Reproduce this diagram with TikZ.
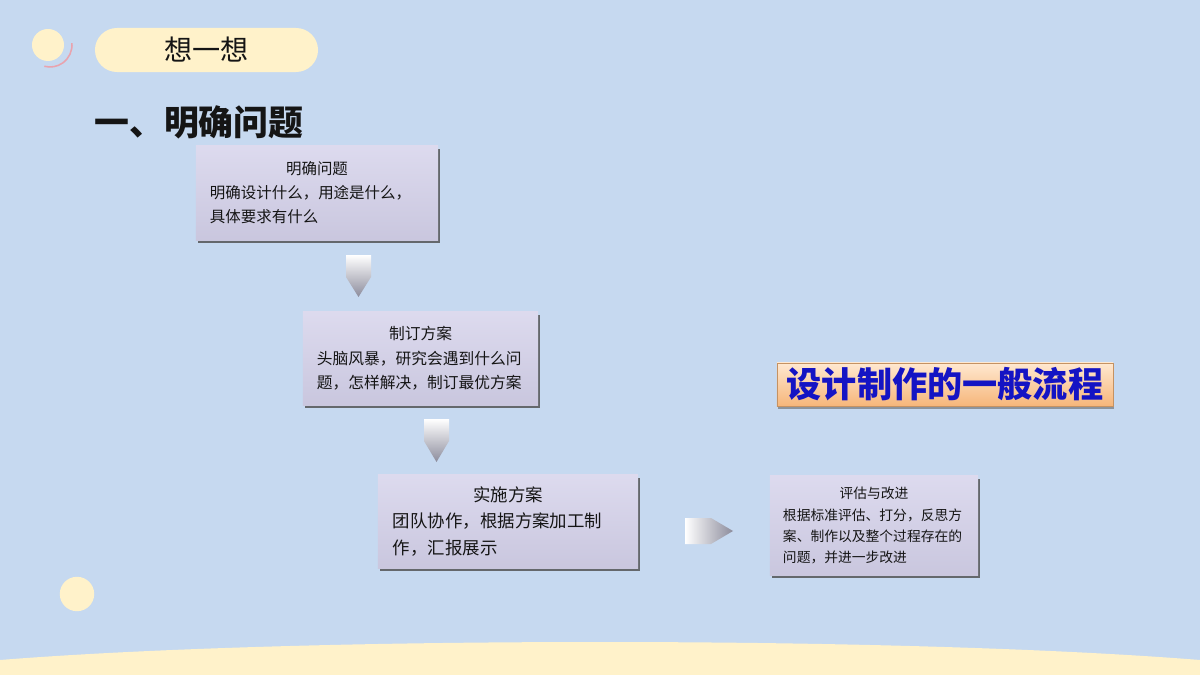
\documentclass[tikz,border=0pt]{standalone}
\usepackage{fontspec}
\setmainfont{Noto Sans CJK SC}
\usepackage{xcolor}
\usetikzlibrary{shadows}
\definecolor{slidebg}{HTML}{C6D9F0}
\definecolor{cream}{HTML}{FFF2CA}
\definecolor{ringpink}{HTML}{E9A3AE}
\definecolor{boxlilac}{HTML}{D4D1EA}
\definecolor{inkdark}{HTML}{151515}
\definecolor{titleblue}{HTML}{1414C4}
\definecolor{peachtop}{HTML}{FFE8D0}
\definecolor{peachbottom}{HTML}{F6B67A}
\definecolor{arrowgray}{HTML}{8C8C9C}
\newcommand{\boxtext}[2]{{\centering #1\par}\noindent #2}
\tikzset{
  stepbox/.style={top color=boxlilac!80!white, bottom color=boxlilac!95!black, text=inkdark,
    inner xsep=0.35cm, inner ysep=0pt,
    drop shadow={shadow xshift=1.5pt, shadow yshift=-1.8pt, fill=black!70, opacity=0.8}},
  blockarrow/.style={draw=none},
  pill/.style={fill=cream, rounded corners=0.55cm, minimum width=5.575cm, minimum height=1.1cm, text=inkdark},
  titlebox/.style={top color=peachtop, bottom color=peachbottom, draw=peachbottom!80!black, line width=0.4pt,
    minimum width=8.4cm, minimum height=1.075cm, text=titleblue,
    drop shadow={shadow xshift=1pt, shadow yshift=-1.8pt, fill=black!60, opacity=0.6}}
}
\begin{document}
\begin{tikzpicture}[x=0.025cm, y=-0.025cm]
  % slide background
  \fill[slidebg] (0,0) rectangle (1200,675);
  \useasboundingbox (0,0) rectangle (1200,675);
  \fill[cream] (0,675) -- (0,660) .. controls (300,636) and (900,636) .. (1200,660) -- (1200,675) -- cycle;
  \fill[cream] (48,45) circle (0.4cm);
  \draw[ringpink, line width=1.1pt] (50,45) ++(5:0.55cm) arc[start angle=5, end angle=-105, radius=0.55cm];
  \fill[cream] (77,594) circle (0.43cm);

  % header
  \node[pill, font=\fontsize{20pt}{22pt}\selectfont] (think) at (206.5,50) {想一想};
  \node[anchor=west, text=inkdark, inner sep=0pt, font=\fontsize{24.8pt}{26pt}\selectfont\bfseries] (heading) at (94,122) {一、明确问题};
  \node[titlebox, font=\fontsize{25pt}{27pt}\selectfont\bfseries] (flowtitle) at (945,384.5) {设计制作的一般流程};

  % flow steps
  \node[stepbox, text width=5.35cm, minimum height=2.35cm, font=\fontsize{11pt}{17pt}\selectfont] (define) at (317,193)
    {\boxtext{明确问题}{明确设计什么，用途是什么，\\具体要求有什么}};
  \node[stepbox, text width=5.175cm, minimum height=2.325cm, font=\fontsize{11.2pt}{17.5pt}\selectfont] (plan) at (420.5,358.5)
    {\boxtext{制订方案}{头脑风暴，研究会遇到什么问\\题，怎样解决，制订最优方案}};
  \node[stepbox, text width=5.75cm, inner xsep=0.375cm, minimum height=2.325cm, font=\fontsize{12.4pt}{19pt}\selectfont] (build) at (508,521.5)
    {\boxtext{实施方案}{团队协作，根据方案加工制\\作，汇报展示}};
  \node[stepbox, text width=4.55cm, inner xsep=0.325cm, minimum height=2.475cm, font=\fontsize{9.8pt}{15pt}\selectfont] (review) at (874,525.5)
    {\boxtext{评估与改进}{根据标准评估、打分，反思方\\案、制作以及整个过程存在的\\问题，并进一步改进}};

  % block arrows
  \shade[blockarrow, top color=white, bottom color=arrowgray] (346,255) -- (371,255) -- (371,277) -- (358.5,297) -- (346,277) -- cycle;
  \shade[blockarrow, top color=white, bottom color=arrowgray] (424,419) -- (449,419) -- (449,441) -- (436.5,462) -- (424,441) -- cycle;
  \shade[blockarrow, left color=white, right color=arrowgray] (685,518) -- (711,518) -- (733,531) -- (711,544) -- (685,544) -- cycle;
\end{tikzpicture}
\end{document}
